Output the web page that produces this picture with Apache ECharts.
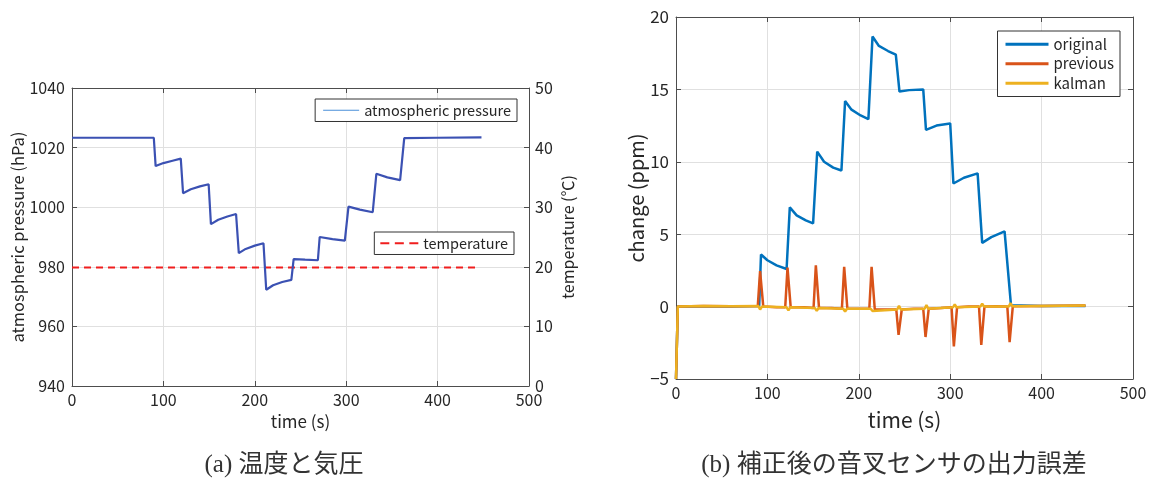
<!DOCTYPE html>
<html>
<head>
<meta charset="utf-8">
<script src="https://cdn.jsdelivr.net/npm/echarts@6/dist/echarts.min.js"></script>
<style>
  html, body { margin: 0; padding: 0; background: #fff; }
  #chart { width: 1156px; height: 486px; }
</style>
</head>
<body>
<div id="chart"></div>
<script>
// (a) pressure and temperature over time
const pressureTime = [0, 30, 60, 89.5, 91.5, 100, 110, 119, 121.5, 130, 140, 149.5, 152, 160, 170, 179.5, 182.5, 190, 200, 209.5, 212.5, 220, 230, 240, 242.5, 255, 269, 271, 285, 298.5, 302.5, 315, 329, 333, 345, 359, 363.5, 400, 448];
const pressureHpa = [1023.3, 1023.3, 1023.3, 1023.3, 1013.8, 1014.8, 1015.6, 1016.3, 1004.7, 1006.0, 1007.0, 1007.7, 994.3, 995.8, 996.9, 997.7, 984.6, 986.0, 987.1, 987.9, 972.3, 973.8, 974.9, 975.6, 982.6, 982.4, 982.2, 990.0, 989.3, 988.8, 1000.2, 999.2, 998.3, 1011.2, 1010.0, 1009.1, 1023.2, 1023.3, 1023.4];
const temperatureTime = [0, 100, 200, 300, 400, 442];
const temperatureC = [19.9, 19.9, 19.9, 19.9, 19.9, 19.9];

// (b) sensor output error after correction
const originalTime = [0, 2, 30, 60, 91, 93, 100, 110, 121, 124.5, 132, 142, 150, 154.5, 162, 172, 181, 185, 192, 202, 210.5, 215, 222, 232, 240.5, 244.5, 255, 270.5, 273.5, 285, 300, 303.5, 315, 330, 335, 345, 359.5, 366.5, 400, 448];
const originalPpm = [-5, 0, 0.02, 0, 0.05, 3.6, 3.2, 2.85, 2.6, 6.85, 6.3, 5.95, 5.75, 10.7, 10.0, 9.6, 9.4, 14.2, 13.6, 13.2, 12.95, 18.65, 18.0, 17.65, 17.4, 14.85, 14.95, 15.0, 12.2, 12.5, 12.65, 8.5, 8.9, 9.2, 4.4, 4.8, 5.2, 0.1, 0.05, 0.05];
const previousTime = [0, 2, 30, 60, 89.5, 92, 93, 95.5, 110, 119.5, 122, 123, 125.5, 140, 150.5, 153, 154, 156.5, 170, 181.5, 184, 185, 187.5, 200, 211.5, 214, 215, 217.5, 230, 241, 243.5, 244.5, 247, 260, 270.5, 273, 274, 276.5, 290, 301.5, 304, 305, 307.5, 320, 331.5, 334, 335, 337.5, 350, 362.5, 365, 366, 368.5, 400, 448];
const previousPpm = [-5, 0, 0.05, 0.02, 0.05, 2.45, 2.45, 0, -0.05, -0.05, 2.7, 2.7, -0.05, -0.05, -0.1, 2.85, 2.85, -0.1, -0.1, -0.15, 2.75, 2.75, -0.15, -0.15, -0.15, 2.75, 2.75, -0.2, -0.2, -0.2, -1.95, -1.95, -0.2, -0.15, -0.15, -2.1, -2.1, -0.15, -0.1, -0.05, -2.75, -2.75, -0.05, 0, 0, -2.65, -2.65, 0, 0.02, 0, -2.45, -2.45, 0.02, 0.05, 0.07];
const kalmanTime = [0, 2, 30, 60, 90, 92, 94, 121, 123, 125, 152, 154, 156, 183, 185, 187, 213, 215, 217, 242, 244, 246, 272, 274, 276, 303, 305, 307, 333, 335, 337, 364, 366, 368, 400, 448];
const kalmanPpm = [-5, 0, 0.05, 0.02, 0.05, -0.2, 0, -0.05, -0.25, -0.05, -0.1, -0.3, -0.1, -0.15, -0.35, -0.15, -0.15, -0.3, -0.2, -0.2, 0.05, -0.2, -0.15, 0.1, -0.15, -0.05, 0.15, -0.05, 0, 0.2, 0, 0, 0.25, 0.02, 0.05, 0.07];

const timeTicks = [0, 100, 200, 300, 400, 500];

const pairs = (xs, ys) => xs.map((x, i) => [x, ys[i]]);

const FONT = '"Noto Sans CJK JP", "Noto Sans", sans-serif';
const AXIS_COLOR = '#4d4d4d';
const GRID_COLOR = '#e0e0e0';
const TXT = '#262626';

// legend glyphs: plain and dashed strokes, proportioned to their item boxes
const THIN_ICON = 'path://M0,0H36V1.2H0Z';
const LINE_ICON = 'path://M0,0H43V3H0Z';
const DASH_ICON = 'path://M0,0H9V2H0Z M14.5,0H23.5V2H14.5Z M29,0H38V2H29Z';

const plain = v => String(v).replace('-', '\u2212');

function valueAxisX(grid, extra) {
  return Object.assign({
    type: 'value', gridIndex: grid, min: timeTicks[0], max: timeTicks[timeTicks.length - 1], interval: 100,
    axisLine: { onZero: false, lineStyle: { color: AXIS_COLOR, width: 1 } },
    axisTick: { inside: true, length: 5, lineStyle: { color: AXIS_COLOR } },
    splitLine: { show: true, lineStyle: { color: GRID_COLOR } },
    axisLabel: { color: TXT, fontFamily: FONT, fontSize: 16, margin: 6, formatter: plain }
  }, extra);
}
function boxX(grid) {
  return {
    type: 'value', gridIndex: grid, position: 'top', min: 0, max: 500, interval: 100,
    axisLine: { onZero: false, lineStyle: { color: AXIS_COLOR } },
    axisTick: { inside: true, length: 5, lineStyle: { color: AXIS_COLOR } },
    axisLabel: { show: false }, splitLine: { show: false }
  };
}

const chart = echarts.init(document.getElementById('chart'), null, { renderer: 'canvas' });

chart.setOption({
  backgroundColor: '#ffffff',
  animation: false,
  grid: [
    { left: 72, right: 627, top: 88, bottom: 100 },
    { left: 676, right: 23, top: 17, bottom: 107 }
  ],
  xAxis: [
    valueAxisX(0, { name: 'time (s)', nameLocation: 'middle', nameGap: 27, nameTextStyle: { color: TXT, fontFamily: FONT, fontSize: 17 } }),
    boxX(0),
    valueAxisX(1, { name: 'time (s)', nameLocation: 'middle', nameGap: 31, nameTextStyle: { color: TXT, fontFamily: FONT, fontSize: 21 } }),
    boxX(1)
  ],
  yAxis: [
    {
      type: 'value', gridIndex: 0, min: 940, max: 1040, interval: 20,
      name: 'atmospheric pressure (hPa)', nameLocation: 'middle', nameGap: 45,
      nameTextStyle: { color: TXT, fontFamily: FONT, fontSize: 16.5 },
      axisLine: { show: true, onZero: false, lineStyle: { color: AXIS_COLOR } },
      axisTick: { inside: true, length: 5, lineStyle: { color: AXIS_COLOR } },
      splitLine: { show: true, lineStyle: { color: GRID_COLOR } },
      axisLabel: { color: TXT, fontFamily: FONT, fontSize: 16, margin: 7, formatter: plain }
    },
    {
      type: 'value', gridIndex: 0, position: 'right', min: 0, max: 50, interval: 10,
      name: 'temperature (℃)', nameLocation: 'middle', nameGap: 31, nameRotate: 90,
      nameTextStyle: { color: TXT, fontFamily: FONT, fontSize: 16 },
      axisLine: { show: true, onZero: false, lineStyle: { color: AXIS_COLOR } },
      axisTick: { inside: true, length: 5, lineStyle: { color: AXIS_COLOR } },
      splitLine: { show: false },
      axisLabel: { color: TXT, fontFamily: FONT, fontSize: 16, margin: 6, formatter: plain }
    },
    {
      type: 'value', gridIndex: 1, min: -5, max: 20, interval: 5,
      name: 'change (ppm)', nameLocation: 'middle', nameGap: 26,
      nameTextStyle: { color: TXT, fontFamily: FONT, fontSize: 20 },
      axisLine: { show: true, onZero: false, lineStyle: { color: AXIS_COLOR } },
      axisTick: { inside: true, length: 5, lineStyle: { color: AXIS_COLOR } },
      splitLine: { show: true, lineStyle: { color: GRID_COLOR } },
      axisLabel: { color: TXT, fontFamily: FONT, fontSize: 17, margin: 7, formatter: plain }
    },
    {
      type: 'value', gridIndex: 1, position: 'right', min: -5, max: 20, interval: 5,
      axisLine: { show: true, onZero: false, lineStyle: { color: AXIS_COLOR } },
      axisTick: { inside: true, length: 5, lineStyle: { color: AXIS_COLOR } },
      axisLabel: { show: false }, splitLine: { show: false }
    }
  ],
  legend: [
    {
      data: [{ name: 'atmospheric pressure', icon: THIN_ICON, itemStyle: { color: '#4a8fd8' } }],
      right: 639, top: 99, orient: 'vertical',
      padding: [4, 6, 4, 8], itemWidth: 36, itemHeight: 1.2,
      borderColor: '#333', borderWidth: 1, borderRadius: 0, backgroundColor: '#fff',
      textStyle: { color: TXT, fontFamily: FONT, fontSize: 14.5 }
    },
    {
      data: [{ name: 'temperature', icon: DASH_ICON, itemStyle: { color: '#f01e1e' } }],
      right: 642, top: 232, orient: 'vertical',
      padding: [4, 6, 4, 6], itemWidth: 38, itemHeight: 2,
      borderColor: '#333', borderWidth: 1, borderRadius: 0, backgroundColor: '#fff',
      textStyle: { color: TXT, fontFamily: FONT, fontSize: 14.5 }
    },
    {
      data: [
        { name: 'original', icon: LINE_ICON },
        { name: 'previous', icon: LINE_ICON },
        { name: 'kalman', icon: LINE_ICON }
      ],
      right: 36, top: 31, orient: 'vertical',
      padding: [4, 6, 4, 8], itemWidth: 43, itemHeight: 3, itemGap: 1,
      borderColor: '#333', borderWidth: 1, borderRadius: 0, backgroundColor: '#fff',
      textStyle: { color: TXT, fontFamily: FONT, fontSize: 15, lineHeight: 18.5 }
    }
  ],
  series: [
    {
      name: 'atmospheric pressure', type: 'line', xAxisIndex: 0, yAxisIndex: 0,
      symbol: 'none', data: pairs(pressureTime, pressureHpa),
      lineStyle: { color: '#3b51b3', width: 2.2 }, itemStyle: { color: '#3b51b3' }, z: 3
    },
    {
      name: 'temperature', type: 'line', xAxisIndex: 0, yAxisIndex: 1,
      symbol: 'none', data: pairs(temperatureTime, temperatureC),
      lineStyle: { color: '#f01e1e', width: 2, type: [7, 5] }, itemStyle: { color: '#f01e1e' }, z: 2
    },
    {
      name: 'original', type: 'line', xAxisIndex: 2, yAxisIndex: 2,
      symbol: 'none', data: pairs(originalTime, originalPpm),
      lineStyle: { color: '#0072BD', width: 2.5 }, itemStyle: { color: '#0072BD' }
    },
    {
      name: 'previous', type: 'line', xAxisIndex: 2, yAxisIndex: 2,
      symbol: 'none', data: pairs(previousTime, previousPpm),
      lineStyle: { color: '#D95319', width: 2.5 }, itemStyle: { color: '#D95319' }
    },
    {
      name: 'kalman', type: 'line', xAxisIndex: 2, yAxisIndex: 2,
      symbol: 'none', data: pairs(kalmanTime, kalmanPpm),
      lineStyle: { color: '#EDB120', width: 2.5 }, itemStyle: { color: '#EDB120' }
    }
  ],
  graphic: [
    {
      type: 'text', x: 284, y: 465,
      style: { text: '(a) 温度と気圧', fill: '#333', align: 'center', verticalAlign: 'middle',
        font: '25px "Liberation Serif", "DejaVu Serif", "Noto Sans CJK JP", serif' }
    },
    {
      type: 'text', x: 894, y: 465,
      style: { text: '(b) 補正後の音叉センサの出力誤差', fill: '#333', align: 'center', verticalAlign: 'middle',
        font: '25px "Liberation Serif", "DejaVu Serif", "Noto Sans CJK JP", serif' }
    }
  ]
});
</script>
</body>
</html>
